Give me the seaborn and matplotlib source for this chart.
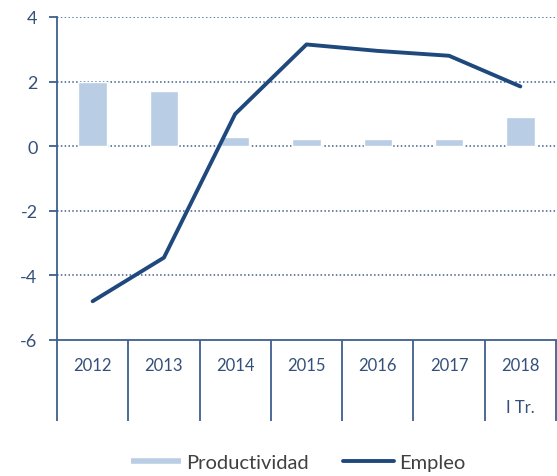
import numpy as np
import pandas as pd
import seaborn as sns
import matplotlib.pyplot as plt
from matplotlib.lines import Line2D

years = ["2012", "2013", "2014", "2015", "2016", "2017", "2018\n\nI Tr."]
productividad = [2.0, 1.7, 0.3, 0.22, 0.22, 0.22, 0.9]
empleo = [-4.8, -3.45, 1.0, 3.15, 2.95, 2.8, 1.85]

bar_color = "#b9cde5"
line_color = "#1f497d"
axis_color = "#3f5f8f"
text_color = "#34507a"

sns.set_style("white")
plt.rcParams["font.family"] = ["Lato", "DejaVu Sans"]
plt.rcParams["axes.unicode_minus"] = False

df = pd.DataFrame({"Año": years, "Productividad": productividad, "Empleo": empleo})
df["pos"] = np.arange(len(years))

fig = plt.figure(figsize=(5.57, 4.77), dpi=100)
ax = fig.add_axes([57 / 557, 1 - 341 / 477, 499 / 557, 323 / 477])

sns.barplot(data=df, x="Año", y="Productividad", color=bar_color,
            width=0.4, saturation=1, ax=ax)
sns.lineplot(data=df, x="pos", y="Empleo", color=line_color,
             linewidth=2.8, ax=ax)

ax.set_xlim(-0.5, len(years) - 0.5)
ax.set_ylim(-6, 4)
ax.set_yticks([-6, -4, -2, 0, 2, 4])
for v in [-4, -2, 0, 2, 4]:
    ax.axhline(v, color=axis_color, linestyle=(0, (1, 1.5)), linewidth=1.1, zorder=0)

# category separators below the axis as long ticks
ax.set_xticks(np.arange(-0.5, len(years), 1.0))
ax.set_xticklabels([])
ax.set_xticks(np.arange(len(years)), minor=True)
ax.set_xticklabels(years, minor=True)
ax.tick_params(axis="x", which="major", direction="out", length=58,
               width=1.3, color=axis_color, bottom=True)
ax.tick_params(axis="x", which="minor", length=0, pad=12,
               labelsize=12, labelcolor=text_color)
for lbl in ax.get_xticklabels(minor=True):
    lbl.set_verticalalignment("top")
    lbl.set_linespacing(1.4)
ax.tick_params(axis="y", direction="out", length=6, width=1.3,
               color=axis_color, left=True, labelsize=13,
               labelcolor=text_color, pad=8)

for side in ["top", "right"]:
    ax.spines[side].set_visible(False)
for side in ["left", "bottom"]:
    ax.spines[side].set_color(axis_color)
    ax.spines[side].set_linewidth(1.3)

ax.set_xlabel("")
ax.set_ylabel("")
if ax.get_legend() is not None:
    ax.get_legend().remove()

handles = [
    Line2D([], [], color=bar_color, linewidth=4, solid_capstyle="butt"),
    Line2D([], [], color=line_color, linewidth=2.8),
]
fig.legend(handles, ["Productividad", "Empleo"], loc="center",
           bbox_to_anchor=(0.535, 1 - 463 / 477), ncol=2, frameon=False,
           fontsize=14.5, handlelength=2.5, handletextpad=0.25,
           columnspacing=1.7, labelcolor="#404040")

fig.savefig("out.png", dpi=100)
